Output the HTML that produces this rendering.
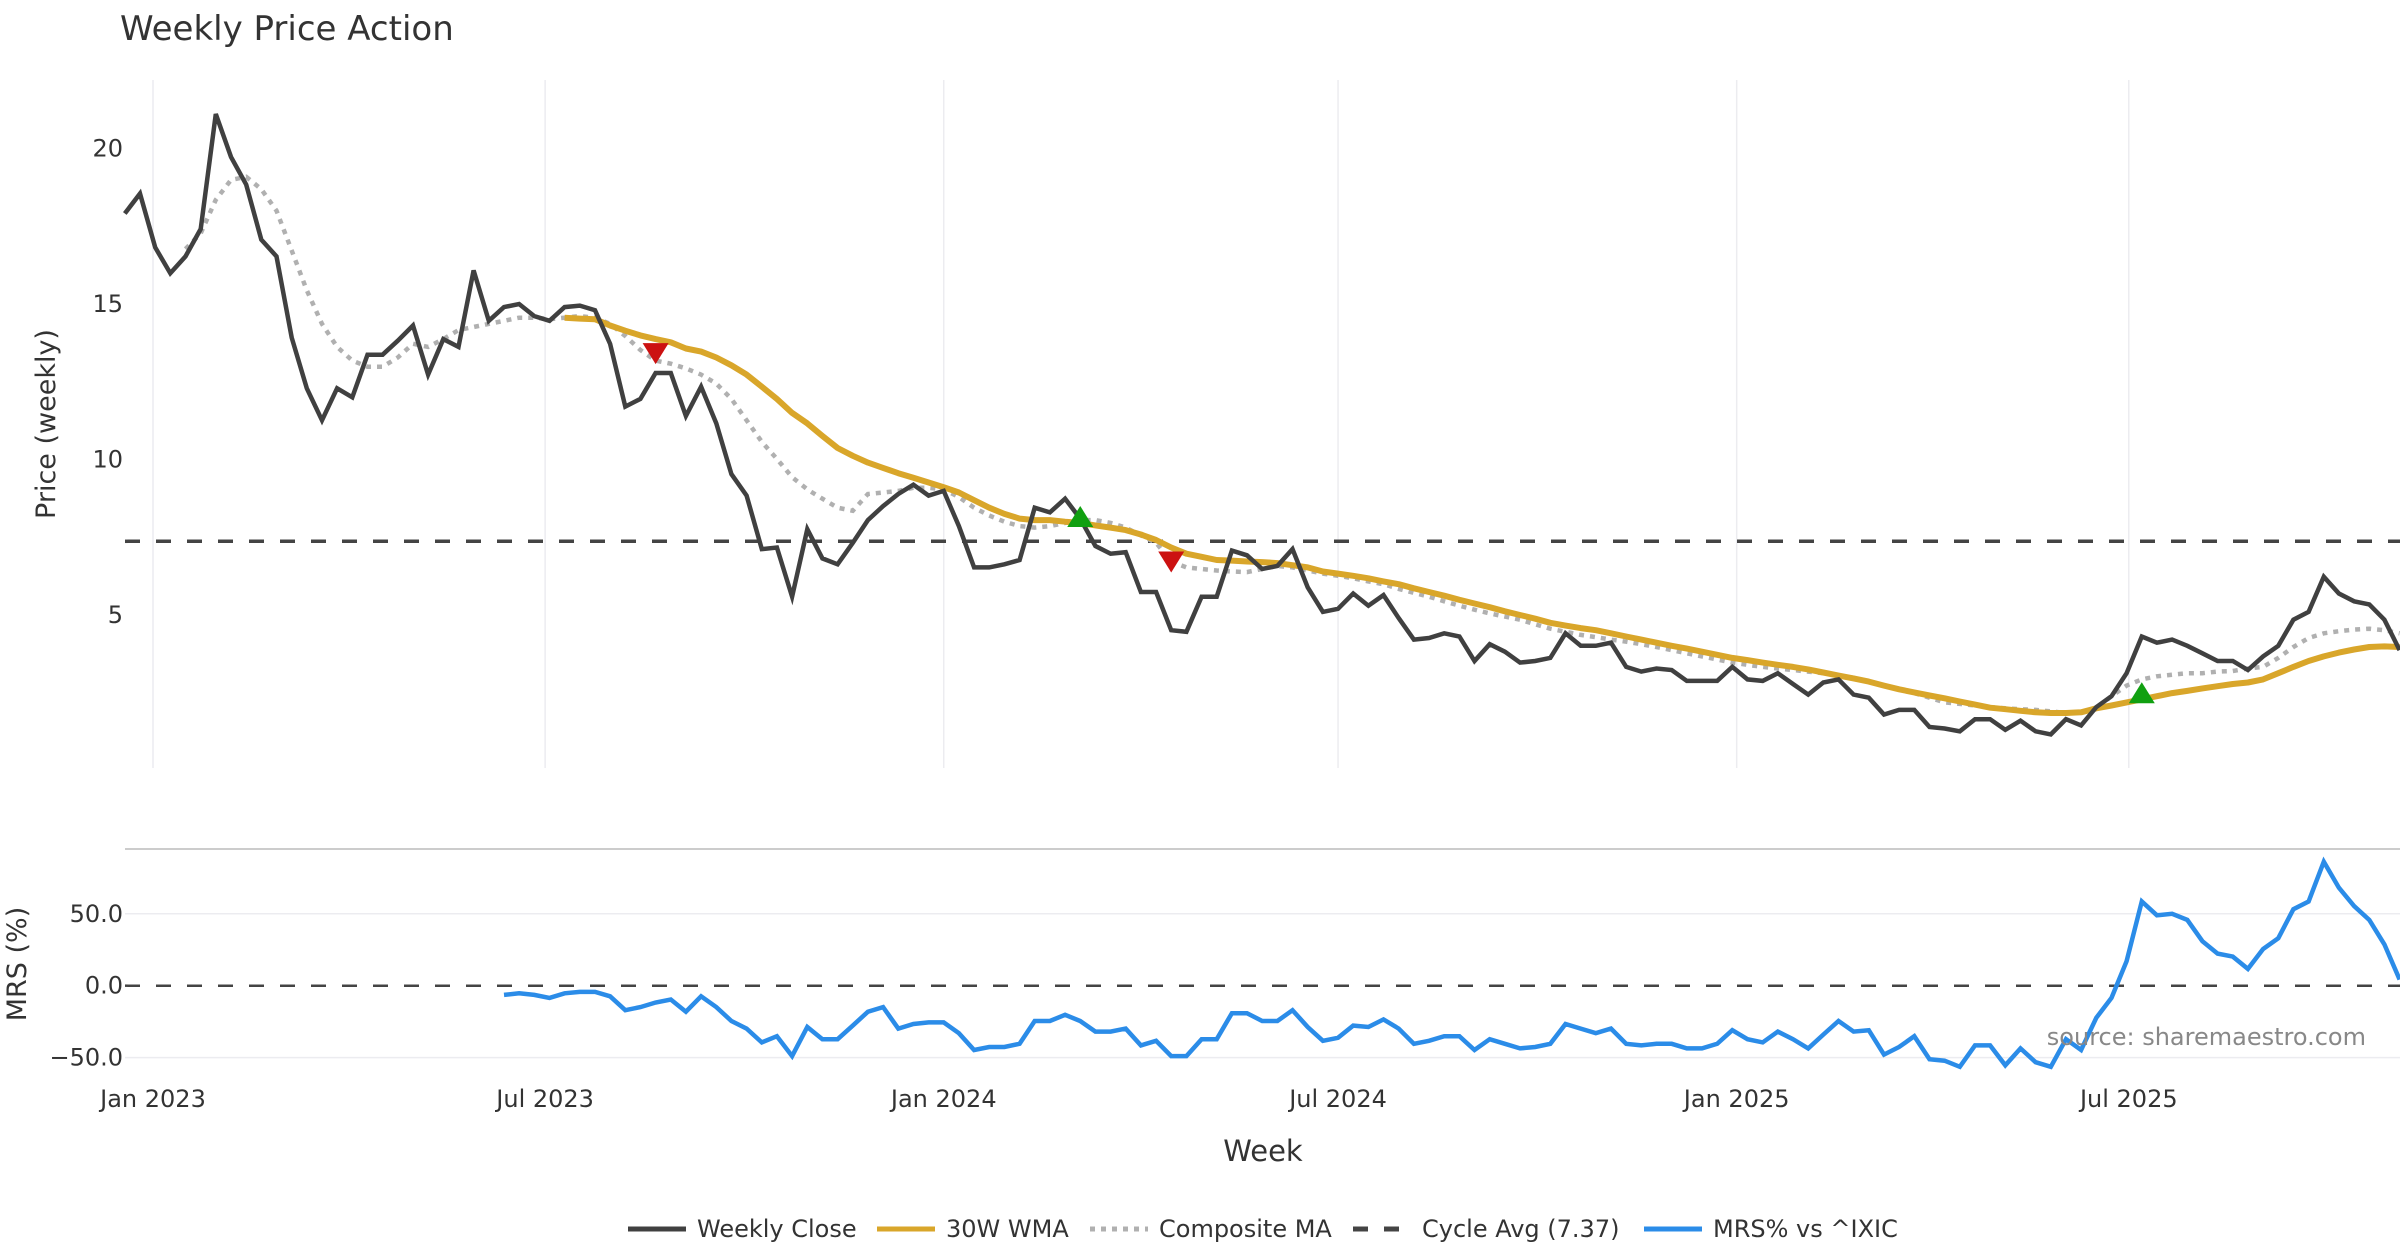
<!DOCTYPE html>
<html><head><meta charset="utf-8"><style>
html,body{margin:0;padding:0;background:#fff;}
svg{display:block;font-family:"DejaVu Sans","Liberation Sans",sans-serif;}
</style></head><body>
<svg id="chart" width="2400" height="1260" viewBox="0 0 2400 1260" xmlns="http://www.w3.org/2000/svg">
<text x="120" y="40" font-size="34" fill="#333">Weekly Price Action</text>
<g id="grid"></g>
<g id="series"></g>
<g id="axes"></g>
<text transform="translate(55,424) rotate(-90)" text-anchor="middle" font-size="27" fill="#333">Price (weekly)</text>
<text transform="translate(26,964) rotate(-90)" text-anchor="middle" font-size="27" fill="#333">MRS (%)</text>
<text x="1263" y="1161" text-anchor="middle" font-size="29" fill="#333">Week</text>
<text x="2366" y="1045" text-anchor="end" font-size="24" fill="#888">source: sharemaestro.com</text>
<g id="legend"></g>
</svg>
<script>
const startDate = "2022-12-19";
const closeVals = [17.91,18.55,16.82,15.99,16.53,17.41,21.11,19.73,18.84,17.07,
16.53,13.92,12.29,11.26,12.29,12.0,13.37,13.37,13.82,14.31,
12.73,13.87,13.62,16.08,14.46,14.90,15.0,14.61,14.46,14.90,
14.95,14.80,13.72,11.70,11.95,12.78,12.78,11.40,12.34,11.16,
9.53,8.84,7.12,7.17,5.59,7.76,6.82,6.63,7.32,8.05,
8.50,8.89,9.19,8.84,8.99,7.86,6.53,6.53,6.63,6.77,
8.45,8.30,8.74,8.10,7.22,6.97,7.02,5.74,5.74,4.51,
4.46,5.59,5.59,7.07,6.92,6.48,6.58,7.12,5.89,5.10,
5.20,5.69,5.30,5.64,4.90,4.21,4.26,4.41,4.31,3.52,
4.06,3.82,3.47,3.52,3.62,4.41,4.01,4.01,4.11,3.33,
3.18,3.28,3.23,2.88,2.88,2.88,3.33,2.93,2.88,3.13,
2.78,2.44,2.83,2.93,2.44,2.34,1.80,1.95,1.95,1.40,
1.35,1.26,1.65,1.65,1.31,1.60,1.26,1.16,1.65,1.45,
2.04,2.39,3.13,4.31,4.11,4.21,4.01,3.77,3.52,3.52,
3.23,3.67,4.01,4.85,5.10,6.23,5.69,5.44,5.34,4.85,3.87];
const wmaStart = 29;
const wmaVals = [14.56,14.53,14.51,14.31,14.14,13.99,13.87,13.77,13.57,13.47,13.28,13.03,12.73,12.34,11.95,11.50,11.16,10.76,10.37,10.12,
9.90,9.73,9.56,9.41,9.26,9.11,8.94,8.69,8.45,8.25,8.10,8.05,8.05,8.00,7.96,7.88,7.81,7.73,7.59,7.41,
7.17,6.97,6.87,6.77,6.75,6.72,6.70,6.67,6.60,6.53,6.40,6.33,6.26,6.18,6.08,5.99,5.86,5.74,5.62,5.49,
5.37,5.25,5.12,5.00,4.88,4.75,4.66,4.58,4.51,4.41,4.31,4.21,4.11,4.01,3.92,3.82,3.72,3.62,3.55,3.47,
3.40,3.33,3.25,3.15,3.05,2.96,2.86,2.73,2.61,2.51,2.41,2.32,2.22,2.12,2.02,1.97,1.92,1.87,1.85,1.85,
1.87,2.00,2.09,2.19,2.29,2.39,2.49,2.56,2.64,2.71,2.78,2.83,2.93,3.13,3.33,3.52,3.67,3.79,3.89,3.97,3.99,3.97];
const compStart = 4;
const compVals = [16.77,17.27,18.35,18.99,19.09,18.69,18.00,16.72,15.44,14.36,13.62,13.18,12.98,12.98,13.28,13.72,13.62,13.87,14.16,14.26,
14.36,14.46,14.56,14.56,14.51,14.56,14.61,14.56,14.36,13.97,13.52,13.18,13.08,12.93,12.73,12.44,11.95,11.26,10.57,10.02,
9.43,9.04,8.74,8.45,8.35,8.89,8.94,8.99,9.09,9.09,9.04,8.79,8.45,8.20,8.00,7.86,7.81,7.86,7.96,8.05,
8.05,7.96,7.81,7.56,7.32,6.72,6.53,6.48,6.43,6.40,6.38,6.48,6.58,6.53,6.43,6.33,6.26,6.18,6.08,5.99,
5.84,5.71,5.59,5.44,5.30,5.17,5.05,4.95,4.85,4.70,4.56,4.46,4.36,4.29,4.21,4.14,4.06,3.97,3.87,3.77,
3.67,3.57,3.47,3.40,3.33,3.28,3.23,3.18,3.13,3.05,2.98,2.86,2.73,2.61,2.49,2.34,2.19,2.14,2.09,2.04,
2.00,1.97,1.95,1.90,1.85,1.87,2.00,2.39,2.73,2.93,3.03,3.08,3.13,3.13,3.18,3.20,3.28,3.33,3.62,3.97,
4.26,4.41,4.48,4.53,4.56,4.51,4.41];
const mrsVals = [-6.4,-5.3,-6.4,-8.5,-5.3,-4.3,-4.3,-7.4,-17.0,-14.9,-11.7,-9.6,-18.1,-7.4,-14.9,-24.5,-29.8,-39.4,-35.1,-48.9,
-28.7,-37.2,-37.2,-27.7,-18.1,-14.9,-29.8,-26.6,-25.5,-25.5,-33.0,-44.7,-42.6,-42.6,-40.4,-24.5,-24.5,-20.2,-24.5,-31.9,
-31.9,-29.8,-41.5,-38.3,-48.9,-48.9,-37.2,-37.2,-19.1,-19.1,-24.5,-24.5,-17.0,-28.7,-38.3,-36.2,-27.7,-28.7,-23.4,-29.8,
-40.4,-38.3,-35.1,-35.1,-44.7,-37.2,-40.4,-43.6,-42.6,-40.4,-26.6,-29.8,-33.0,-29.8,-40.4,-41.5,-40.4,-40.4,-43.6,-43.6,
-40.4,-30.9,-37.2,-39.4,-31.9,-37.2,-43.6,-34.0,-24.5,-31.9,-30.9,-47.9,-42.6,-35.1,-51.1,-52.1,-56.4,-41.5,-41.5,-55.3,
-43.6,-53.2,-56.4,-37.2,-44.7,-22.3,-8.5,17.0,58.5,48.9,50.0,45.7,30.9,22.3,20.2,11.7,25.5,33.0,53.2,58.5,
86.2,68.1,55.3,45.7,28.7,4.3];
const cycleAvg = 7.37;
const sellIdx = [35,69];
const buyIdx = [63,133];
const priceTicks = [5,10,15,20];
const mrsTicks = [-50,0,50];
const mrsTickLabels = ["\u221250.0","0.0","50.0"];
const xTickDates = ["2023-01-01","2023-07-01","2024-01-01","2024-07-01","2025-01-01","2025-07-01"];
const xTickLabels = ["Jan 2023","Jul 2023","Jan 2024","Jul 2024","Jan 2025","Jul 2025"];

const NS="http://www.w3.org/2000/svg";
const DAY=86400000, t0=Date.parse("2023-01-01T00:00:00Z"), s0=Date.parse(startDate+"T00:00:00Z");
function xDate(d){return 153+(Date.parse(d+"T00:00:00Z")-t0)/DAY/7*15.165;}
function xIdx(i){return 153+((s0-t0)/DAY/7+i)*15.165;}
function yP(v){return 615-(v-5)*31.1;}
function yM(v){return 985.7-v*1.4388;}
function mk(tag,attrs,parent){const e=document.createElementNS(NS,tag);for(const k in attrs)e.setAttribute(k,attrs[k]);parent.appendChild(e);return e;}
const grid=document.getElementById('grid'),ser=document.getElementById('series'),axes=document.getElementById('axes'),leg=document.getElementById('legend');

xTickDates.forEach((d,k)=>{
  const x=xDate(d);
  const g1=mk('line',{x1:x,x2:x,y1:80,y2:768,stroke:'#ececf0','stroke-width':1.5},grid);
  
  
  const t=mk('text',{x:x,y:1107,'text-anchor':'middle','font-size':24,fill:'#333'},axes);
  t.textContent=xTickLabels[k];
  
  
});
priceTicks.forEach(v=>{
  const t=mk('text',{x:123,y:yP(v)+8,'text-anchor':'end','font-size':24,fill:'#333'},axes);
  t.textContent=v;
  
  
});
mrsTicks.forEach((v,k)=>{
  if(v!==0){const g=mk('line',{x1:125,x2:2400,y1:yM(v),y2:yM(v),stroke:'#ececf0','stroke-width':1.5},grid);
  
  }
  const t=mk('text',{x:123,y:yM(v)+8,'text-anchor':'end','font-size':24,fill:'#333'},axes);
  t.textContent=mrsTickLabels[k];
  
  
});
const sep=mk('line',{x1:125,x2:2400,y1:849,y2:849,stroke:'#cccccc','stroke-width':2},grid);



function path(vals,start,yf){return vals.map((v,i)=>(i?'L':'M')+xIdx(start+i).toFixed(1)+','+yf(v).toFixed(1)).join('');}
const cyc=mk('line',{x1:125,x2:2400,y1:yP(cycleAvg),y2:yP(cycleAvg),stroke:'#444','stroke-width':3.5,'stroke-dasharray':'15,16'},ser);


const comp=mk('path',{d:path(compVals,compStart,yP),fill:'none',stroke:'#b0b0b0','stroke-width':4.5,'stroke-dasharray':'5,6'},ser);


const wma=mk('path',{d:path(wmaVals,wmaStart,yP),fill:'none',stroke:'#d9a62a','stroke-width':6,'stroke-linejoin':'round'},ser);


const cl=mk('path',{d:path(closeVals,0,yP),fill:'none',stroke:'#404040','stroke-width':4.5,'stroke-linejoin':'miter'},ser);


sellIdx.forEach(i=>{
  const x=xIdx(i),yy=yP(wmaVals[i-wmaStart])+14;
  const p=mk('path',{d:`M${x-13},${yy-10}L${x+13},${yy-10}L${x},${yy+11}Z`,fill:'#cc1111'},ser);
  
  
});
buyIdx.forEach(i=>{
  const x=xIdx(i),yy=yP(wmaVals[i-wmaStart])-6;
  const p=mk('path',{d:`M${x-13},${yy+10}L${x+13},${yy+10}L${x},${yy-11}Z`,fill:'#11a011'},ser);
  
  
});
const z=mk('line',{x1:125,x2:2400,y1:yM(0),y2:yM(0),stroke:'#444','stroke-width':2.5,'stroke-dasharray':'15,16'},ser);


const mrsStart=closeVals.length-mrsVals.length;
const mrs=mk('path',{d:path(mrsVals,mrsStart,yM),fill:'none',stroke:'#2b8ce8','stroke-width':4.5},ser);



const legItems=[["Weekly Close",628,'#404040',null],["30W WMA",877,'#d9a62a',null],["Composite MA",1090,'#b0b0b0','5,6'],["Cycle Avg (7.37)",1353,'#444','15,16'],["MRS% vs ^IXIC",1644,'#2b8ce8',null]];
legItems.forEach(it=>{
  const l=mk('line',{x1:it[1],x2:it[1]+58,y1:1229,y2:1229,stroke:it[2],'stroke-width':5},leg);
  if(it[3])l.setAttribute('stroke-dasharray',it[3]);
  
  
  const t=mk('text',{x:it[1]+69,y:1237,'font-size':24,fill:'#333'},leg);
  t.textContent=it[0];
  
  
});
</script>
</body></html>
